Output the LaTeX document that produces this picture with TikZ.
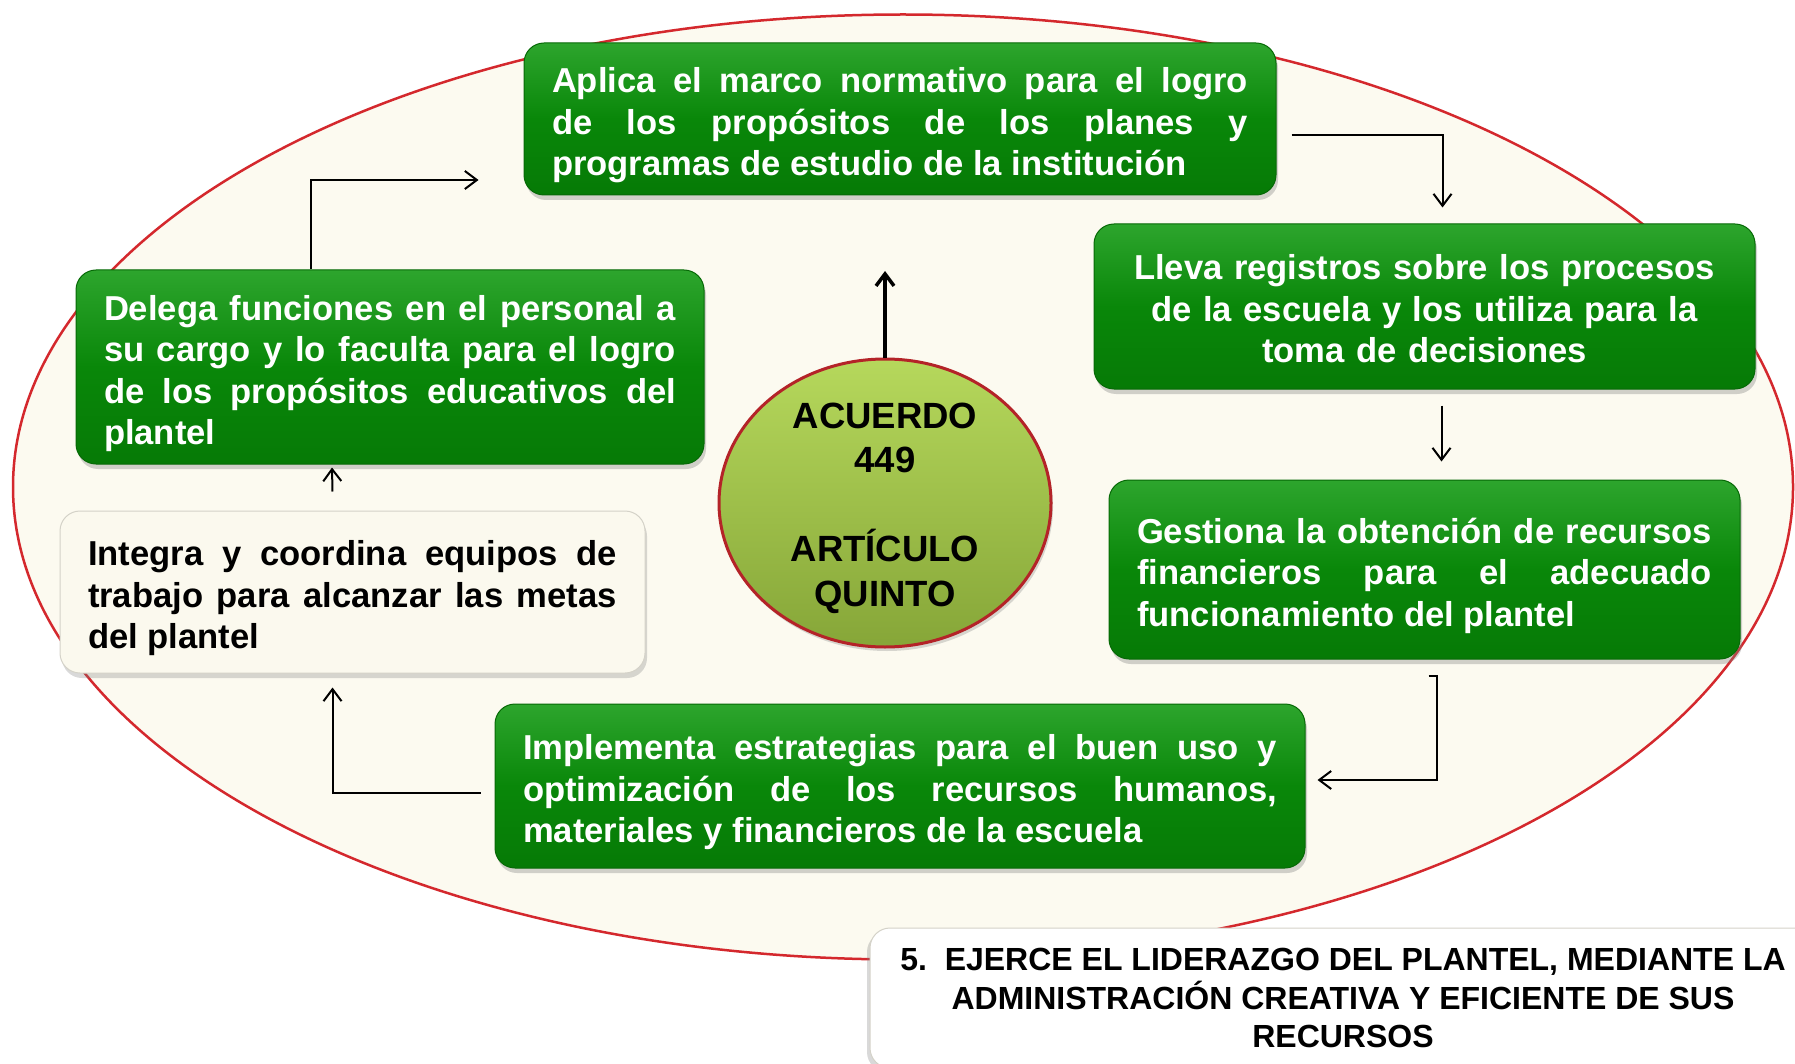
\documentclass[tikz,border=0pt]{standalone}
\usepackage{fontspec}
\setmainfont{Liberation Sans}
\usepackage{tikz}
\usetikzlibrary{shapes.geometric,arrows.meta,calc,shadows,positioning}

\definecolor{ringfill}{RGB}{252,250,240}
\definecolor{ringline}{RGB}{212,40,45}
\definecolor{boxtop}{RGB}{45,165,45}
\definecolor{boxmid}{RGB}{9,135,9}
\definecolor{boxbot}{RGB}{6,122,6}
\definecolor{boxline}{RGB}{6,105,6}
\definecolor{creamfill}{RGB}{251,249,238}
\definecolor{creamline}{RGB}{212,210,200}
\definecolor{balltop}{RGB}{182,216,92}
\definecolor{ballbot}{RGB}{134,166,56}
\definecolor{ballline}{RGB}{180,35,40}

\begin{document}
\begin{tikzpicture}[x=1pt,y=-1pt]
	\tikzstyle{ring} = [ellipse, draw=ringline, line width=2.5pt, fill=ringfill, inner sep=0pt, minimum width=1780pt, minimum height=945pt]
	\tikzstyle{greenbox} = [rectangle, rounded corners=20pt, draw=boxline, line width=1pt, top color=boxtop, bottom color=boxbot, middle color=boxmid, text=white, inner xsep=28pt, inner ysep=0pt, font=\fontsize{34.6}{41.5}\selectfont\bfseries, drop shadow={shadow xshift=2pt, shadow yshift=-5pt, opacity=0.35}]
	\tikzstyle{creambox} = [rectangle, rounded corners=20pt, draw=creamline, line width=1pt, fill=creamfill, text=black, inner xsep=28pt, inner ysep=0pt, font=\fontsize{34.6}{41.5}\selectfont\bfseries, drop shadow={shadow xshift=2pt, shadow yshift=-5pt, opacity=0.3}]
	\tikzstyle{lift} = [execute at begin node={\rule{0pt}{38pt}}]
	\tikzstyle{ball} = [ellipse, draw=ballline, line width=3pt, top color=balltop, bottom color=ballbot, inner sep=-40pt, minimum width=332pt, minimum height=288pt, text width=200pt, align=center, font=\fontsize{36.5}{44.5}\selectfont\bfseries, execute at begin node={\rule{0pt}{36pt}}, drop shadow={shadow xshift=2pt, shadow yshift=-4pt, opacity=0.3}]
	\tikzstyle{titlebox} = [rectangle, rounded corners=20pt, draw=creamline, line width=1pt, fill=white, minimum width=946pt, minimum height=140pt, align=center, font=\fontsize{32}{38.5}\selectfont\bfseries, drop shadow={shadow xshift=-3pt, shadow yshift=-4pt, opacity=0.3}]
	\tikzstyle{conn} = [draw, line width=2pt, -{Straight Barb[length=12pt,width=18pt]}]

	\useasboundingbox (0,0) rectangle (1795,1064);

	% background
	\node[ring] (ring) at (903,487) {};

	\node[greenbox, lift, text width=696pt, align=justify, minimum height=152pt] (0) at (900,119) {Aplica el marco normativo para el logro\linebreak de los propósitos de los planes y\linebreak programas de estudio de la institución};
	\node[greenbox, text width=605pt, align=center, minimum height=165pt, execute at begin node={\rule{0pt}{30pt}}] (1) at (1424.5,306.5) {Lleva registros sobre los procesos\\de la escuela y los utiliza para la\\toma de decisiones};
	\node[greenbox, lift, text width=575pt, align=justify, minimum height=179pt] (2) at (1424.5,569.5) {Gestiona la obtención de recursos\linebreak financieros para el adecuado\linebreak funcionamiento del plantel};
	\node[greenbox, lift, text width=754pt, align=justify, minimum height=164pt] (3) at (900,786) {Implementa estrategias para el buen uso y\linebreak optimización de los recursos humanos,\linebreak materiales y financieros de la escuela};
	\node[creambox, lift, text width=529pt, align=justify, minimum height=162pt] (4) at (352.5,592) {Integra y coordina equipos de\linebreak trabajo para alcanzar las metas\linebreak del plantel};
	\node[greenbox, lift, text width=572pt, align=justify, minimum height=194pt] (5) at (390,367) {Delega funciones en el personal a\linebreak su cargo y lo faculta para el logro\linebreak de los propósitos educativos del\linebreak plantel};
	\node[ball] (6) at (885,503) {ACUERDO\\449\\[44.5pt]ARTÍCULO\\QUINTO};
	\node[titlebox] (7) at (1343,998) {5.\ \ EJERCE EL LIDERAZGO DEL PLANTEL, MEDIANTE LA\\ADMINISTRACIÓN CREATIVA Y EFICIENTE DE SUS\\RECURSOS};

	\coordinate (up) at (885,271);

	% cycle
	\path[conn] ([shift={(15,16)}]0.east) -| ([shift={(18,-16)}]1.north);
	\path[conn] ([shift={(17,16)}]1.south) -- ([shift={(17,-18)}]2.north);
	\path[conn] ([shift={(4,16)}]2.south) -- ++(8,0) |- ([shift={(12,-6)}]3.east);
	\path[conn] ([shift={(-14,7)}]3.west) -| ([shift={(-20,14)}]4.south);
	\path[conn] ([shift={(-20,-19)}]4.north) -- ([shift={(-58,3)}]5.south);
	\path[conn] ([xshift=-79pt]5.north) |- ([shift={(-45,61)}]0.west);
	\path[conn, line width=3.5pt] (6.north) -- (up);
\end{tikzpicture}
\end{document}
